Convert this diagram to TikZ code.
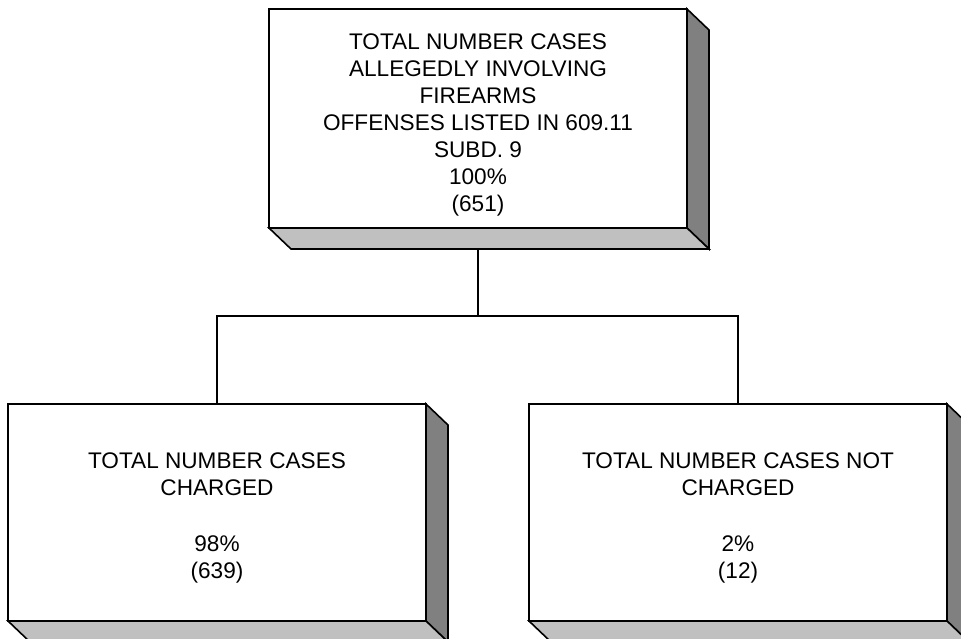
\documentclass[tikz,border=0pt]{standalone}
\usepackage{fontspec}
\setmainfont{Liberation Sans}
\definecolor{darkface}{RGB}{128,128,128}
\definecolor{lightface}{RGB}{192,192,192}
\begin{document}
\begin{tikzpicture}[x=1pt,y=-1pt,
  frontbox/.style={draw=black, line width=1.6pt, fill=white, inner sep=0pt, outer sep=0pt},
  rightface/.style={draw=black, line width=1.6pt, line join=miter, fill=darkface},
  bottomface/.style={draw=black, line width=1.6pt, line join=miter, fill=lightface},
  boxtext/.style={align=center, inner sep=0pt, font=\fontsize{22.6}{27}\selectfont},
  conn/.style={draw=black, line width=1.4pt}]
\useasboundingbox (0,0) rectangle (961,639);
\clip (0,0) rectangle (961,639);

% front faces
\node[frontbox, minimum width=418pt, minimum height=219pt] (top) at (478,118.5) {};
\node[frontbox, minimum width=418pt, minimum height=217pt] (chg) at (217,512.5) {};
\node[frontbox, minimum width=418pt, minimum height=217pt] (notchg) at (738,512.5) {};

% depth faces
\foreach \n in {top,chg,notchg} {
  \draw[rightface] (\n.north east) -- ([shift={(22,21)}]\n.north east)
     -- ([shift={(22,21)}]\n.south east) -- (\n.south east) -- cycle;
  \draw[bottomface] (\n.south west) -- (\n.south east)
     -- ([shift={(22,21)}]\n.south east) -- ([shift={(22,21)}]\n.south west) -- cycle;
}

% texts
\node[boxtext] (toptxt) at (478,125) {TOTAL NUMBER CASES\\ALLEGEDLY INVOLVING\\FIREARMS\\OFFENSES LISTED IN 609.11\\SUBD. 9\\100\%\\(651)};
\node[boxtext] (chgtxt) at (217,518) {TOTAL NUMBER CASES\\CHARGED\\[29pt]98\%\\(639)};
\node[boxtext] (notchgtxt) at (738,518) {TOTAL NUMBER CASES NOT\\CHARGED\\[29pt]2\%\\(12)};

% connectors
\coordinate (topbase) at ([shift={(0,21)}]top.south);
\coordinate (fork) at (478,316);
\draw[conn] (topbase) -- (fork);
\draw[conn] (chg.north) |- (fork) -| (notchg.north);
\end{tikzpicture}
\end{document}
